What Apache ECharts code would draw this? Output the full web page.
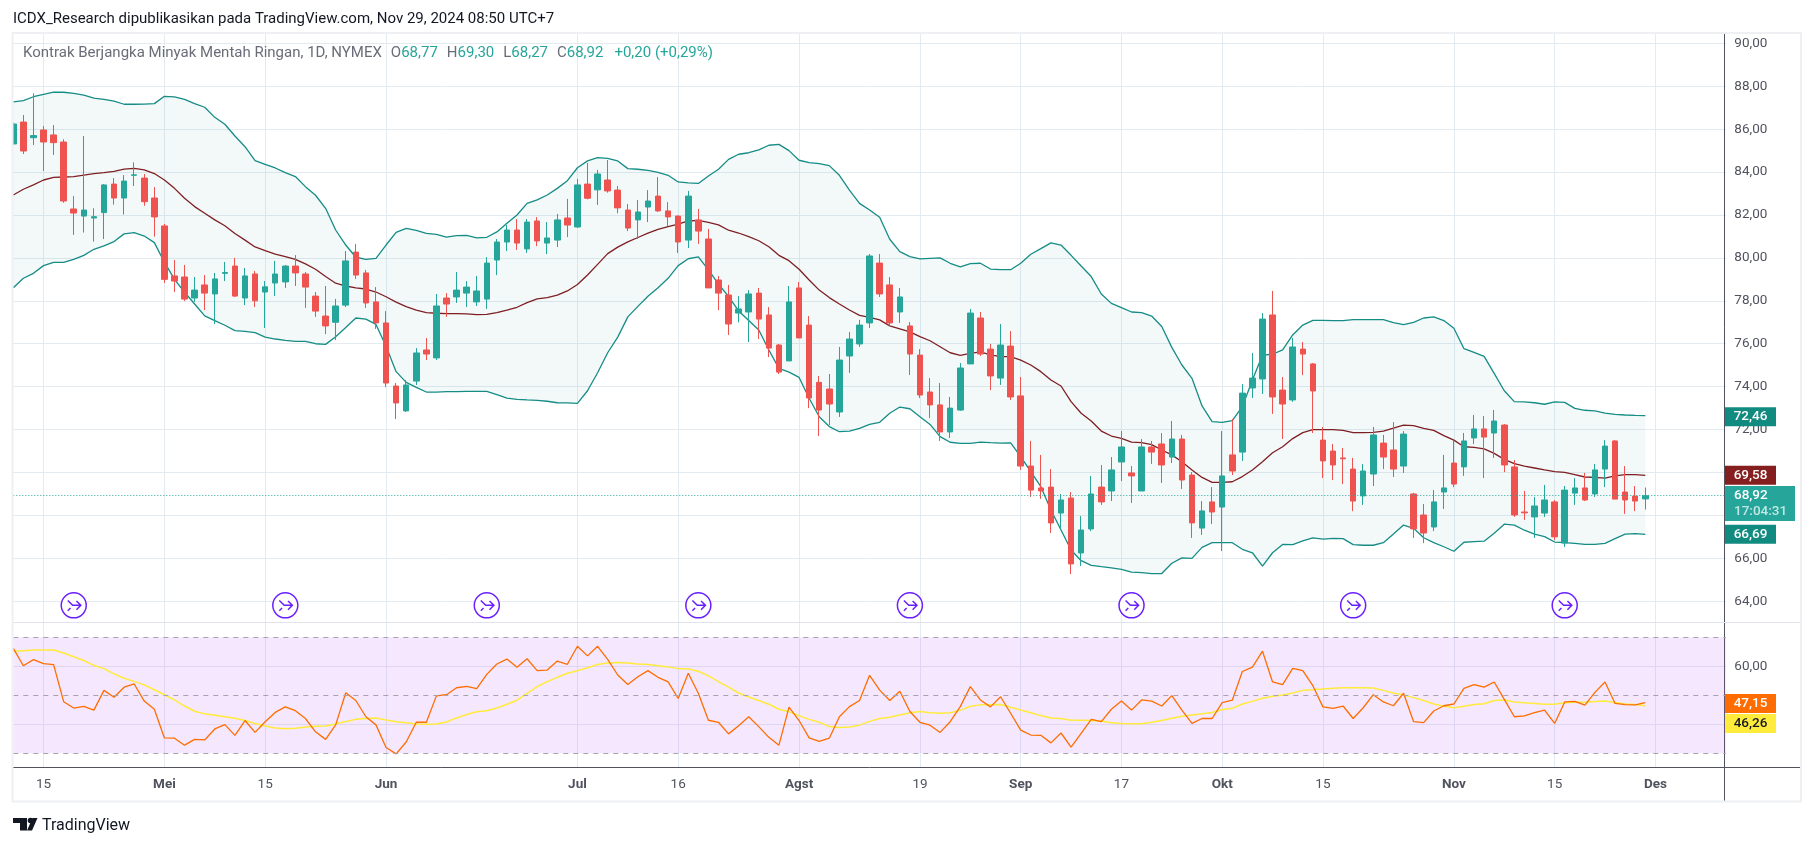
<!DOCTYPE html>
<html><head><meta charset="utf-8">
<style>html,body{margin:0;padding:0;background:#fff}#c{width:1814px;height:846px}</style>
<script src="https://cdn.jsdelivr.net/npm/echarts@6/dist/echarts.min.js"></script>
</head><body><div id="c"></div>
<script>
const categories = "04-10 04-11 04-12 04-15 04-16 04-17 04-18 04-19 04-22 04-23 04-24 04-25 04-26 04-29 04-30 05-01 05-02 05-03 05-06 05-07 05-08 05-09 05-10 05-13 05-14 05-15 05-16 05-17 05-20 05-21 05-22 05-23 05-24 05-28 05-29 05-30 05-31 06-03 06-04 06-05 06-06 06-07 06-10 06-11 06-12 06-13 06-14 06-17 06-18 06-20 06-21 06-24 06-25 06-26 06-27 06-28 07-01 07-02 07-03 07-05 07-08 07-09 07-10 07-11 07-12 07-15 07-16 07-17 07-18 07-19 07-22 07-23 07-24 07-25 07-26 07-29 07-30 07-31 08-01 08-02 08-05 08-06 08-07 08-08 08-09 08-12 08-13 08-14 08-15 08-16 08-19 08-20 08-21 08-22 08-23 08-26 08-27 08-28 08-29 08-30 09-03 09-04 09-05 09-06 09-09 09-10 09-11 09-12 09-13 09-16 09-17 09-18 09-19 09-20 09-23 09-24 09-25 09-26 09-27 09-30 10-01 10-02 10-03 10-04 10-07 10-08 10-09 10-10 10-11 10-14 10-15 10-16 10-17 10-18 10-21 10-22 10-23 10-24 10-25 10-28 10-29 10-30 10-31 11-01 11-04 11-05 11-06 11-07 11-08 11-11 11-12 11-13 11-14 11-15 11-18 11-19 11-20 11-21 11-22 11-25 11-26 11-27 11-29 12-02 12-03 12-04 12-05 12-06 12-09 12-10 12-11".split(" ");
const tickDates = ["04-15","05-01","05-15","06-03","07-01","07-16","08-01","08-19","09-03","09-17","10-01","10-15","11-01","11-15","12-02"];
const tickTexts = ["15","Mei","15","Jun","Jul","16","Agst","19","Sep","17","Okt","15","Nov","15","Des"];
const monthTicks = ["Mei","Jun","Jul","Agst","Sep","Okt","Nov","Des"];
const priceTicks = [64,66,68,70,72,74,76,78,80,82,84,86,88,90];
const rsiTicks = [40,60];
const opens = [85.31,86.33,85.6,85.96,85.73,85.4,82.28,81.95,81.86,82.11,
83.44,82.79,83.85,83.72,82.79,81.49,79.16,79.11,78.13,78.74,
78.32,79.28,79.62,78.13,79.25,78.41,78.83,78.88,79.62,79.25,
78.22,77.29,77.0,77.8,80.27,79.3,77.95,76.97,74.03,72.87,
74.26,75.71,75.34,78.13,78.18,78.36,77.95,78.08,79.9,80.74,
81.3,80.42,81.72,80.69,80.83,81.86,81.44,83.44,83.17,83.63,
83.16,82.23,81.77,82.37,82.88,82.19,81.95,80.83,81.77,80.88,
78.97,78.27,77.43,77.48,78.36,77.34,75.94,75.2,78.6,76.87,
74.2,73.89,72.82,75.43,75.99,76.97,79.76,78.74,77.48,76.83,
75.47,73.75,73.15,71.89,72.91,75.06,77.2,75.75,74.4,75.89,
73.57,70.3,69.28,69.32,68.11,68.81,66.25,67.37,69.32,69.14,
70.49,69.98,69.14,71.19,71.33,70.72,71.56,69.88,67.41,68.63,
68.39,70.82,70.95,73.94,74.36,77.34,73.84,73.38,75.75,75.06,
71.51,71.0,70.68,70.16,68.91,69.93,71.37,71.05,70.3,69.0,
68.02,67.46,69.09,70.44,70.26,71.61,72.03,71.84,72.21,70.26,
68.16,67.93,68.11,68.63,66.71,69.04,69.28,69.0,70.16,71.47,
69.09,68.9,68.77];
const closes = [86.24,84.98,85.7,85.4,85.37,82.65,82.09,82.23,81.92,83.4,
82.79,83.58,83.87,82.62,81.91,79.0,78.92,78.08,78.5,78.36,
79.02,79.32,78.22,79.16,78.0,78.65,79.25,79.62,79.3,78.64,
77.52,76.83,77.76,79.86,79.2,77.9,76.97,74.17,73.24,74.08,
75.57,75.52,77.76,77.85,78.5,78.64,78.46,79.76,80.74,81.3,
80.69,81.67,80.79,80.93,81.77,81.53,83.4,82.78,83.91,83.12,
82.33,81.39,82.14,82.65,82.19,81.91,80.74,82.88,81.25,78.6,
78.36,76.92,77.62,78.32,77.15,75.8,74.68,77.95,76.27,73.47,
72.91,73.19,75.24,76.22,76.87,80.09,78.32,76.97,78.18,75.52,
73.61,73.15,71.89,73.0,74.87,77.43,75.52,74.5,75.94,73.52,
70.3,69.18,69.14,67.65,68.72,65.74,67.32,69.0,68.63,70.12,
71.19,69.84,71.19,70.95,70.35,71.56,69.65,67.65,68.21,68.16,
69.84,70.07,73.7,74.4,77.15,73.52,73.19,75.85,75.52,73.8,
70.54,70.35,70.64,68.67,70.07,71.75,70.72,70.16,71.79,67.37,
67.18,68.63,69.28,69.46,71.47,72.03,71.65,72.4,70.35,68.02,
68.12,68.44,68.72,67.0,69.18,69.28,68.72,70.12,71.23,68.76,
68.72,68.67,68.92];
const lows = [85.3,84.84,85.26,84.05,84.8,82.57,81.07,81.18,80.76,80.88,
82.48,82.02,83.35,82.43,80.99,78.83,78.41,77.99,77.95,77.57,
76.92,78.92,78.18,77.8,77.71,76.73,78.22,78.6,78.69,77.67,
77.25,76.45,76.17,77.71,79.02,77.67,76.69,73.98,72.49,72.82,
74.08,75.24,75.24,77.25,77.9,77.71,77.76,77.62,79.2,80.32,
80.37,80.23,80.55,80.18,80.51,80.97,81.4,82.73,82.47,83.04,
82.08,81.25,80.88,81.67,82.14,81.49,80.23,80.46,80.65,78.6,
77.57,76.41,77.0,76.08,76.22,75.38,74.59,75.2,76.27,73.0,
71.7,72.21,72.59,74.64,75.85,76.73,78.18,76.83,76.97,74.54,
73.47,72.54,71.47,71.61,72.87,75.06,75.43,73.84,74.08,73.38,
70.12,68.86,68.77,67.18,67.32,65.27,65.64,67.27,68.49,68.67,
69.6,68.58,69.14,70.4,69.51,70.44,69.23,66.95,67.09,67.6,
66.34,69.88,70.54,73.47,73.66,72.73,71.56,73.29,74.54,71.84,
69.74,69.65,69.46,68.2,68.49,69.37,70.16,69.79,69.98,66.95,
66.71,67.27,68.3,69.32,69.84,71.33,69.74,70.68,70.02,67.93,
67.79,66.95,67.93,66.85,66.53,68.49,68.67,68.86,69.32,68.76,
68.07,68.2,68.27];
const highs = [86.3,86.66,87.67,86.15,86.19,85.53,82.88,85.68,82.31,83.44,
83.72,83.86,84.45,83.91,83.3,81.58,79.9,79.67,79.11,79.2,
79.3,79.81,80.0,79.53,79.39,78.92,79.86,79.67,80.13,79.34,
78.41,78.69,78.09,80.32,80.65,79.44,78.64,77.52,74.17,74.31,
75.8,76.27,78.32,78.36,79.34,78.92,79.16,80.04,80.88,81.53,
81.81,81.81,81.9,81.67,82.05,82.75,83.68,84.42,84.1,84.56,
83.35,82.51,82.7,83.16,83.77,82.6,81.98,83.12,82.28,81.35,
79.16,78.74,78.22,78.5,78.6,77.71,75.99,78.69,78.88,77.29,
74.5,74.59,75.85,76.55,77.11,80.18,80.18,79.11,78.6,77.01,
75.75,74.4,74.17,73.52,75.1,77.62,77.48,75.99,76.92,76.59,
74.45,71.47,70.82,70.16,69.0,69.09,67.97,69.84,70.35,70.72,
71.93,70.3,71.56,71.47,71.84,72.4,71.75,70.02,68.67,69.32,
71.93,72.49,74.12,75.57,77.43,78.46,74.45,76.27,76.08,75.1,
72.12,71.33,71.14,70.68,70.4,72.12,71.75,72.35,71.93,69.05,
68.53,69.18,70.82,71.47,71.84,72.68,72.63,72.91,72.26,70.58,
69.14,68.86,69.42,68.72,69.37,69.74,69.98,70.4,71.51,71.51,
70.3,69.37,69.3];
const bbUpper = [87.27,87.33,87.51,87.62,87.72,87.72,87.67,87.58,87.45,87.39,
87.31,87.16,87.16,87.17,87.19,87.53,87.5,87.39,87.19,87.02,
86.55,86.23,85.68,85.18,84.53,84.36,84.19,83.97,83.79,83.32,
82.92,82.31,81.3,80.6,80.03,79.93,79.98,80.6,81.19,81.38,
81.28,81.14,81.1,80.97,81.04,81.05,80.93,80.96,81.21,81.61,
82.0,82.54,82.7,82.93,83.24,83.6,84.2,84.52,84.67,84.64,
84.52,84.16,84.13,84.08,83.99,83.85,83.54,83.5,83.47,83.82,
84.13,84.59,84.83,84.9,85.03,85.25,85.29,85.0,84.55,84.44,
84.39,84.3,83.85,83.16,82.54,82.23,81.89,80.87,80.29,80.06,
79.95,79.98,80.0,79.75,79.58,79.73,79.75,79.48,79.45,79.45,
79.75,80.17,80.43,80.7,80.6,80.12,79.62,79.13,78.32,77.88,
77.68,77.48,77.45,77.29,76.8,75.83,75.01,74.39,73.1,72.37,
72.34,72.42,73.07,74.31,75.47,75.51,75.71,76.41,76.87,77.09,
77.09,77.08,77.08,77.12,77.12,77.12,77.12,76.98,76.89,77.0,
77.2,77.25,77.08,76.72,75.77,75.6,75.41,74.62,73.81,73.3,
73.29,73.25,73.18,73.29,73.27,72.99,72.9,72.87,72.77,72.71,
72.68,72.66,72.65];
const bbBasis = [82.93,83.2,83.4,83.63,83.75,83.77,83.79,83.86,83.93,83.97,
84.03,84.14,84.17,84.1,83.93,83.63,83.24,82.78,82.39,82.08,
81.77,81.5,81.14,80.83,80.51,80.34,80.18,80.06,79.93,79.72,
79.47,79.13,78.82,78.69,78.6,78.55,78.41,78.19,77.94,77.73,
77.57,77.45,77.42,77.4,77.4,77.39,77.36,77.37,77.45,77.57,
77.7,77.92,78.09,78.15,78.27,78.46,78.76,79.2,79.7,80.2,
80.5,80.75,80.95,81.15,81.33,81.46,81.57,81.72,81.75,81.66,
81.54,81.29,81.16,80.99,80.8,80.52,80.12,79.87,79.47,78.97,
78.5,78.15,77.85,77.57,77.32,77.23,77.11,76.83,76.69,76.55,
76.33,76.14,75.86,75.58,75.46,75.55,75.62,75.48,75.4,75.4,
75.24,75.01,74.7,74.31,74.03,73.3,72.76,72.4,71.93,71.7,
71.59,71.42,71.39,71.3,71.05,70.82,70.5,70.12,69.77,69.54,
69.54,69.57,69.81,70.12,70.5,70.92,71.2,71.58,71.86,72.0,
72.0,72.0,71.96,71.86,71.86,71.87,71.93,72.07,72.21,72.18,
72.06,71.96,71.72,71.51,71.2,71.17,71.1,70.89,70.61,70.41,
70.3,70.21,70.12,70.04,70.01,69.9,69.79,69.77,69.74,69.84,
69.9,69.9,69.87];
const bbLower = [78.61,79.05,79.28,79.64,79.79,79.79,79.93,80.12,80.4,80.56,
80.76,81.12,81.18,81.02,80.71,79.8,79.0,78.4,77.85,77.3,
77.08,76.86,76.61,76.58,76.52,76.31,76.22,76.16,76.11,76.11,
76.0,75.97,76.33,76.76,77.2,77.15,76.9,75.88,74.7,74.2,
73.97,73.75,73.75,73.77,73.77,73.78,73.78,73.78,73.63,73.47,
73.41,73.38,73.36,73.32,73.25,73.24,73.22,73.81,74.65,75.58,
76.31,77.25,77.74,78.21,78.61,79.05,79.64,79.96,80.05,79.44,
78.78,78.2,77.53,77.08,76.64,75.71,74.85,74.68,74.43,73.46,
72.6,72.14,71.9,71.93,72.06,72.24,72.34,72.76,73.05,72.97,
72.6,72.24,71.67,71.41,71.36,71.36,71.42,71.39,71.37,71.38,
70.74,70.04,69.34,68.25,67.32,66.39,65.89,65.67,65.61,65.56,
65.49,65.36,65.33,65.29,65.29,65.77,66.02,66.0,66.51,66.73,
66.73,66.73,66.42,66.26,65.64,66.26,66.65,66.64,66.81,66.95,
66.9,66.93,66.92,66.64,66.61,66.61,66.73,67.13,67.55,67.4,
66.96,66.73,66.54,66.33,66.75,66.78,66.8,67.17,67.59,67.55,
67.31,67.13,67.01,66.76,66.73,66.7,66.65,66.65,66.7,66.92,
67.13,67.15,67.12];
const rsi = [66.2,60.2,62.3,60.9,60.6,47.8,45.6,46.2,44.9,51.7,
49.3,52.8,53.9,48.0,45.2,35.3,35.2,32.8,34.8,34.6,
38.4,39.9,36.2,41.3,37.2,40.9,44.1,46.0,44.7,42.0,
37.4,34.8,39.8,50.9,48.2,42.6,39.8,32.0,29.8,33.9,
40.7,40.7,49.8,50.2,52.6,53.1,52.3,57.2,60.8,62.5,
59.7,62.6,58.5,58.7,61.8,60.7,66.9,63.6,66.9,62.4,
57.0,53.7,56.4,58.5,56.2,54.6,48.9,57.6,50.7,41.4,
40.7,36.7,39.5,42.6,39.2,35.5,32.8,45.9,41.3,35.3,
34.1,35.2,42.6,46.1,48.2,56.9,51.8,48.2,51.4,44.4,
40.7,39.7,37.2,40.9,46.1,53.0,48.4,46.0,49.5,43.8,
38.0,36.3,36.2,33.6,37.0,32.1,36.9,41.7,40.9,45.2,
48.0,44.9,48.4,48.0,46.3,49.9,44.9,40.3,42.0,42.0,
47.5,48.3,58.2,59.7,65.2,54.6,53.7,59.3,58.5,53.3,
46.0,45.5,46.3,42.0,45.7,50.2,47.7,46.4,50.7,40.9,
40.6,44.6,46.4,47.0,52.4,53.7,52.8,54.6,48.6,42.6,
42.9,44.0,44.9,40.3,47.7,47.9,46.6,51.0,54.6,47.2,
46.8,46.7,47.5];
const rsiMa = [65.2,65.4,65.6,65.6,65.6,64.6,63.3,62.0,60.3,59.2,
57.4,55.9,54.8,53.6,51.9,50.2,48.4,46.3,44.5,43.6,
43.1,42.6,42.1,41.3,40.3,39.4,38.7,38.5,38.6,39.1,
39.3,39.4,40.1,41.0,41.7,42.0,42.2,41.5,40.9,40.5,
40.1,40.0,40.1,40.8,42.2,43.4,44.3,44.7,45.6,46.9,
48.3,50.7,53.0,54.7,56.2,57.6,58.5,59.5,60.6,61.1,
61.3,61.1,60.8,60.6,60.2,59.8,59.2,59.1,58.3,56.7,
54.7,52.8,50.8,49.4,48.2,46.9,45.2,44.3,43.0,41.7,
40.7,39.2,38.9,39.1,39.7,41.0,42.0,42.4,43.2,44.0,
44.4,44.0,43.8,44.0,44.8,46.2,46.7,46.7,46.8,45.9,
44.9,44.0,43.0,42.2,42.0,41.4,41.4,41.3,41.1,40.5,
40.3,40.2,40.2,40.7,41.3,42.1,42.8,43.2,43.6,44.1,
45.1,45.5,47.0,47.9,49.0,49.7,50.1,50.8,51.7,51.9,
52.2,52.4,52.6,52.6,52.6,52.5,51.7,50.8,50.1,49.2,
48.2,47.0,46.2,45.7,46.2,46.8,47.1,48.2,48.4,47.7,
47.4,47.2,46.9,46.9,47.4,47.6,47.6,47.9,48.0,47.5,
47.0,46.8,46.4];
const rolloverDates = ["04-18","05-17","06-17","07-18","08-16","09-18","10-18","11-18"];
const rolloverLevel = [63.81,63.81,63.81,63.81,63.81,63.81,63.81,63.81];
const rsiGuides = [70,50,30];
const headerTitle = "ICDX_Research dipublikasikan pada TradingView.com, Nov 29, 2024 08:50 UTC+7";
const symbolName = "Kontrak Berjangka Minyak Mentah Ringan, 1D, NYMEX";
const ohlcLetters = ["O","H","L","C"];
const ohlcValues = ["68,77","69,30","68,27","68,92"];
const changeText = "+0,20 (+0,29%)";
const priceTags = {upper:"72,46", basis:"69,58", close:"68,92", lower:"66,69", rsi:"47,15", rsiMa:"46,26", countdown:"17:04:31"};

const UP="#26a69a", DOWN="#ef5350", BAND="#158c86", BASIS="#7e1f23", GRID="#e3ebf1", TEXT="#50535e";
const FONT="Roboto";
const edge = categories[categories.length-1];
const fmt = v => v.toFixed(2).replace(".",",");
const tickMap = Object.fromEntries(tickDates.map((d,i)=>[d,tickTexts[i]]));

function tag(value, text, color, opt){
  opt = opt||{};
  return {
    coord:[edge,value], symbol:'rect',
    symbolSize:[opt.w||51, opt.h||19],
    symbolOffset:[opt.dx||24.6, opt.dy||0],
    itemStyle:{color:color},
    label:Object.assign({show:true,position:'inside',formatter:text,color:opt.fg||'#fff',fontFamily:FONT,fontSize:13.5,fontWeight:500}, opt.label||{})
  };
}
const n = bbUpper.length;
const candleData = opens.map((o,i)=>[o,closes[i],lows[i],highs[i]]);
const legendText = "{g|"+symbolName+"}{s| }"+ohlcLetters.map((l,i)=>"{g|"+l+"}{v|"+ohlcValues[i]+"}").join("{s| }")+"{w| }{v|"+changeText+"}";
const rosette = "path://M12 .5a11.5 11.5 0 1 0 0 23a11.5 11.5 0 1 0 0-23z M6.5 7.5L11 12H18.5M14.5 8L18.5 12L14.5 16M6.5 17L9 14.5";

const option = {
  animation:false, backgroundColor:'#fff',
  title:[
    {text:headerTitle,left:13,top:12,padding:0,textStyle:{fontFamily:FONT,fontSize:15,fontWeight:400,color:'#131722'}},
    {text:legendText,left:23,top:46,padding:0,textStyle:{fontFamily:FONT,fontSize:15,fontWeight:400,rich:{
      s:{width:9,fontSize:15},w:{width:11,fontSize:15},
      g:{color:'#6a6d78',fontFamily:FONT,fontSize:15},v:{color:UP,fontFamily:FONT,fontSize:15}}}}
  ],
  grid:[
    {left:13.3,top:33.5,width:1712.6,height:588.8,containLabel:false},
    {left:13.3,top:622.3,width:1712.6,height:145,containLabel:false}
  ],
  xAxis:[
    {type:'category',gridIndex:0,data:categories,boundaryGap:false,
      axisLine:{show:false},axisTick:{show:false},axisLabel:{show:false},
      splitLine:{show:true,interval:(i,v)=>v in tickMap,lineStyle:{color:GRID,width:1}}},
    {type:'category',gridIndex:1,data:categories,boundaryGap:false,
      axisLine:{show:true,lineStyle:{color:TEXT,width:1}},axisTick:{show:false},
      axisLabel:{show:true,margin:10,interval:(i,v)=>v in tickMap,fontFamily:FONT,fontSize:13.5,color:TEXT,
        formatter:v=>{const t=tickMap[v]; return t? (monthTicks.includes(t)?"{m|"+t+"}":t):"";},
        rich:{m:{fontFamily:FONT,fontSize:13.5,fontWeight:700,color:TEXT}}},
      splitLine:{show:true,interval:(i,v)=>v in tickMap,lineStyle:{color:GRID,width:1}}}
  ],
  yAxis:[
    {type:'value',gridIndex:0,position:'right',offset:-1.6,min:90-(622.3-43.3)/21.46,max:90+(43.3-33.5)/21.46,scale:true,
      axisLine:{show:true,lineStyle:{color:TEXT,width:1}},
      axisTick:{show:false,customValues:priceTicks},
      axisLabel:{show:true,margin:10,customValues:priceTicks,fontFamily:FONT,fontSize:13.5,color:TEXT,formatter:fmt},
      splitLine:{show:true,lineStyle:{color:GRID,width:1}}},
    {type:'value',gridIndex:1,position:'right',offset:-1.6,min:30-(767.3-753.3)/2.9,max:70+(637.3-622.3)/2.9,scale:true,
      axisLine:{show:true,lineStyle:{color:TEXT,width:1}},
      axisTick:{show:false,customValues:rsiTicks},
      axisLabel:{show:true,margin:10,customValues:rsiTicks,fontFamily:FONT,fontSize:13.5,color:TEXT,formatter:fmt},
      splitLine:{show:true,lineStyle:{color:GRID,width:1}}}
  ],
  series:[
    {name:'bb-base',type:'line',stack:'bb',data:bbLower,symbol:'none',lineStyle:{width:0},z:1,silent:true},
    {name:'bb-fill',type:'line',stack:'bb',data:bbUpper.map((u,i)=>+(u-bbLower[i]).toFixed(2)),symbol:'none',lineStyle:{width:0},
      areaStyle:{color:'rgba(21,140,134,0.05)',opacity:1},z:1,silent:true},
    {name:'Upper',type:'line',data:bbUpper,symbol:'none',lineStyle:{color:BAND,width:1.3},z:2,
      markPoint:{silent:true,data:[tag(bbUpper[n-1],priceTags.upper,'#118a80',{dy:1})]}},
    {name:'Basis',type:'line',data:bbBasis,symbol:'none',lineStyle:{color:BASIS,width:1.3},z:2,
      markPoint:{silent:true,data:[tag(bbBasis[n-1],priceTags.basis,'#851f1f')]}},
    {name:'Lower',type:'line',data:bbLower,symbol:'none',lineStyle:{color:BAND,width:1.3},z:2,
      markPoint:{silent:true,data:[tag(bbLower[n-1],priceTags.lower,'#118a80')]}},
    {name:'Price',type:'candlestick',data:candleData,barWidth:6,z:3,
      itemStyle:{color:UP,color0:DOWN,borderColor:UP,borderColor0:DOWN,borderWidth:1},
      markLine:{silent:true,symbol:'none',label:{show:false},lineStyle:{color:UP,type:[1,2],width:1},data:[{yAxis:closes[n-1]}]},
      markPoint:{silent:true,z:6,data:[tag(closes[n-1],"{a|"+priceTags.close+"}\n{b|"+priceTags.countdown+"}",UP,{w:70,h:35,dx:34.1,dy:7.7,
        label:{rich:{a:{color:'#fff',fontFamily:FONT,fontSize:13.5,fontWeight:500,lineHeight:16,align:'left',width:52},b:{color:'rgba(255,255,255,0.72)',fontFamily:FONT,fontSize:13.5,lineHeight:16,align:'left',width:52}}}})]}},
    {name:'Rollover',type:'scatter',data:rolloverDates.map((d,i)=>[d,rolloverLevel[i]]),symbol:rosette,symbolSize:25,z:4,silent:true,
      itemStyle:{color:'#fff',borderColor:'#6a1fff',borderWidth:1.5,opacity:1}},
    {name:'RSI',type:'line',xAxisIndex:1,yAxisIndex:1,data:rsi,symbol:'none',lineStyle:{color:'#ff6d00',width:1.3},z:4,
      markArea:{silent:true,itemStyle:{color:'rgba(186,85,240,0.14)'},data:[[{yAxis:rsiGuides[2]},{yAxis:rsiGuides[0]}]]},
      markLine:{silent:true,symbol:'none',label:{show:false},lineStyle:{color:'#a8a2ae',type:[5,5],width:1},data:rsiGuides.map(v=>({yAxis:v}))},
      markPoint:{silent:true,data:[tag(+priceTags.rsi.replace(",","."),priceTags.rsi,'#ff6d00')]}},
    {name:'RSI MA',type:'line',xAxisIndex:1,yAxisIndex:1,data:rsiMa,symbol:'none',lineStyle:{color:'#ffeb3b',width:1.5},z:3,
      markPoint:{silent:true,z:7,data:[tag(+priceTags.rsiMa.replace(",","."),priceTags.rsiMa,'#ffeb3b',{dy:17.4,fg:'#131722'})]}}
  ],
  graphic:[
    {type:'rect',silent:true,z:9,shape:{x:0,y:60,width:12.5,height:560},style:{fill:'#fff'}},
    {type:'rect',silent:true,z:10,shape:{x:12.5,y:33,width:1788.5,height:768.5},style:{fill:'none',stroke:'#eef0f3',lineWidth:2}},
    {type:'line',silent:true,z:1,shape:{x1:13,y1:622.5,x2:1801,y2:622.5},style:{stroke:'#e0e3eb',lineWidth:1}},
    {type:'line',silent:true,z:1,shape:{x1:1724.5,y1:767.5,x2:1801,y2:767.5},style:{stroke:TEXT,lineWidth:1}},
    {type:'line',silent:true,z:1,shape:{x1:1724.5,y1:767,x2:1724.5,y2:802},style:{stroke:TEXT,lineWidth:1}},
    {type:'polygon',silent:true,shape:{points:[[13,818],[27,818],[27,830.5],[20,830.5],[20,823],[13,823]]},style:{fill:'#131722'}},
    {type:'circle',silent:true,shape:{cx:30.5,cy:820.5,r:2.8},style:{fill:'#131722'}},
    {type:'polygon',silent:true,shape:{points:[[32,830.5],[37.5,818],[32.5,818],[27,830.5]]},style:{fill:'#131722'}},
    {type:'text',silent:true,x:42,y:818,style:{text:"TradingView",fontFamily:FONT,fontSize:16,fill:'#131722'}}
  ]
};
const chart = echarts.init(document.getElementById('c'),null,{renderer:'canvas',width:1814,height:846});
chart.setOption(option);
</script></body></html>
